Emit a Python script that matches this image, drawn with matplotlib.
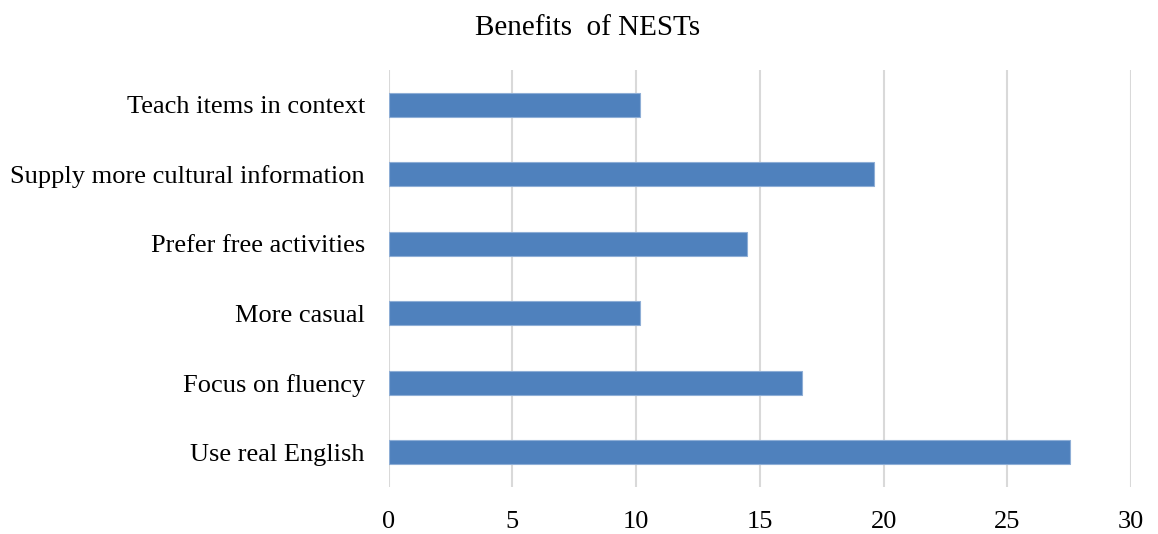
import matplotlib.pyplot as plt
import numpy as np

# datos del grafico
categorias = ["Use real English", "Focus on fluency", "More casual",
              "Prefer free activities", "Supply more cultural information",
              "Teach items in context"]
valores = [27.55, 16.7, 10.15, 14.5, 19.6, 10.15]
ticks_x = [0, 5, 10, 15, 20, 25, 30]

plt.rcParams['font.family'] = ['Liberation Serif', 'DejaVu Serif']

fig = plt.figure(figsize=(11.58, 5.34), dpi=100)
ax = fig.add_axes([0.3355, 0.088, 0.6413, 0.781])

y = np.arange(len(categorias))
ax.barh(y, valores, height=0.35, color='#4f81bd', edgecolor='#8eaed6',
        linewidth=0.8, zorder=3)

ax.set_xlim(0, 30)
ax.set_ylim(-0.5, len(categorias) - 0.5)
ax.set_xticks(ticks_x)
ax.set_xticklabels([str(t) for t in ticks_x])
ax.set_yticks(y)
ax.set_yticklabels(categorias)
ax.tick_params(axis='both', length=0, labelsize=19, colors='black')
ax.tick_params(axis='x', pad=17)
ax.tick_params(axis='y', pad=17)

ax.grid(axis='x', color='#d9d9d9', linewidth=1.5, zorder=0)
for s in ax.spines.values():
    s.set_visible(False)

fig.text(0.507, 0.947, "Benefits  of NESTs", ha='center', va='center', fontsize=21)

fig.savefig('out.png', dpi=100)
